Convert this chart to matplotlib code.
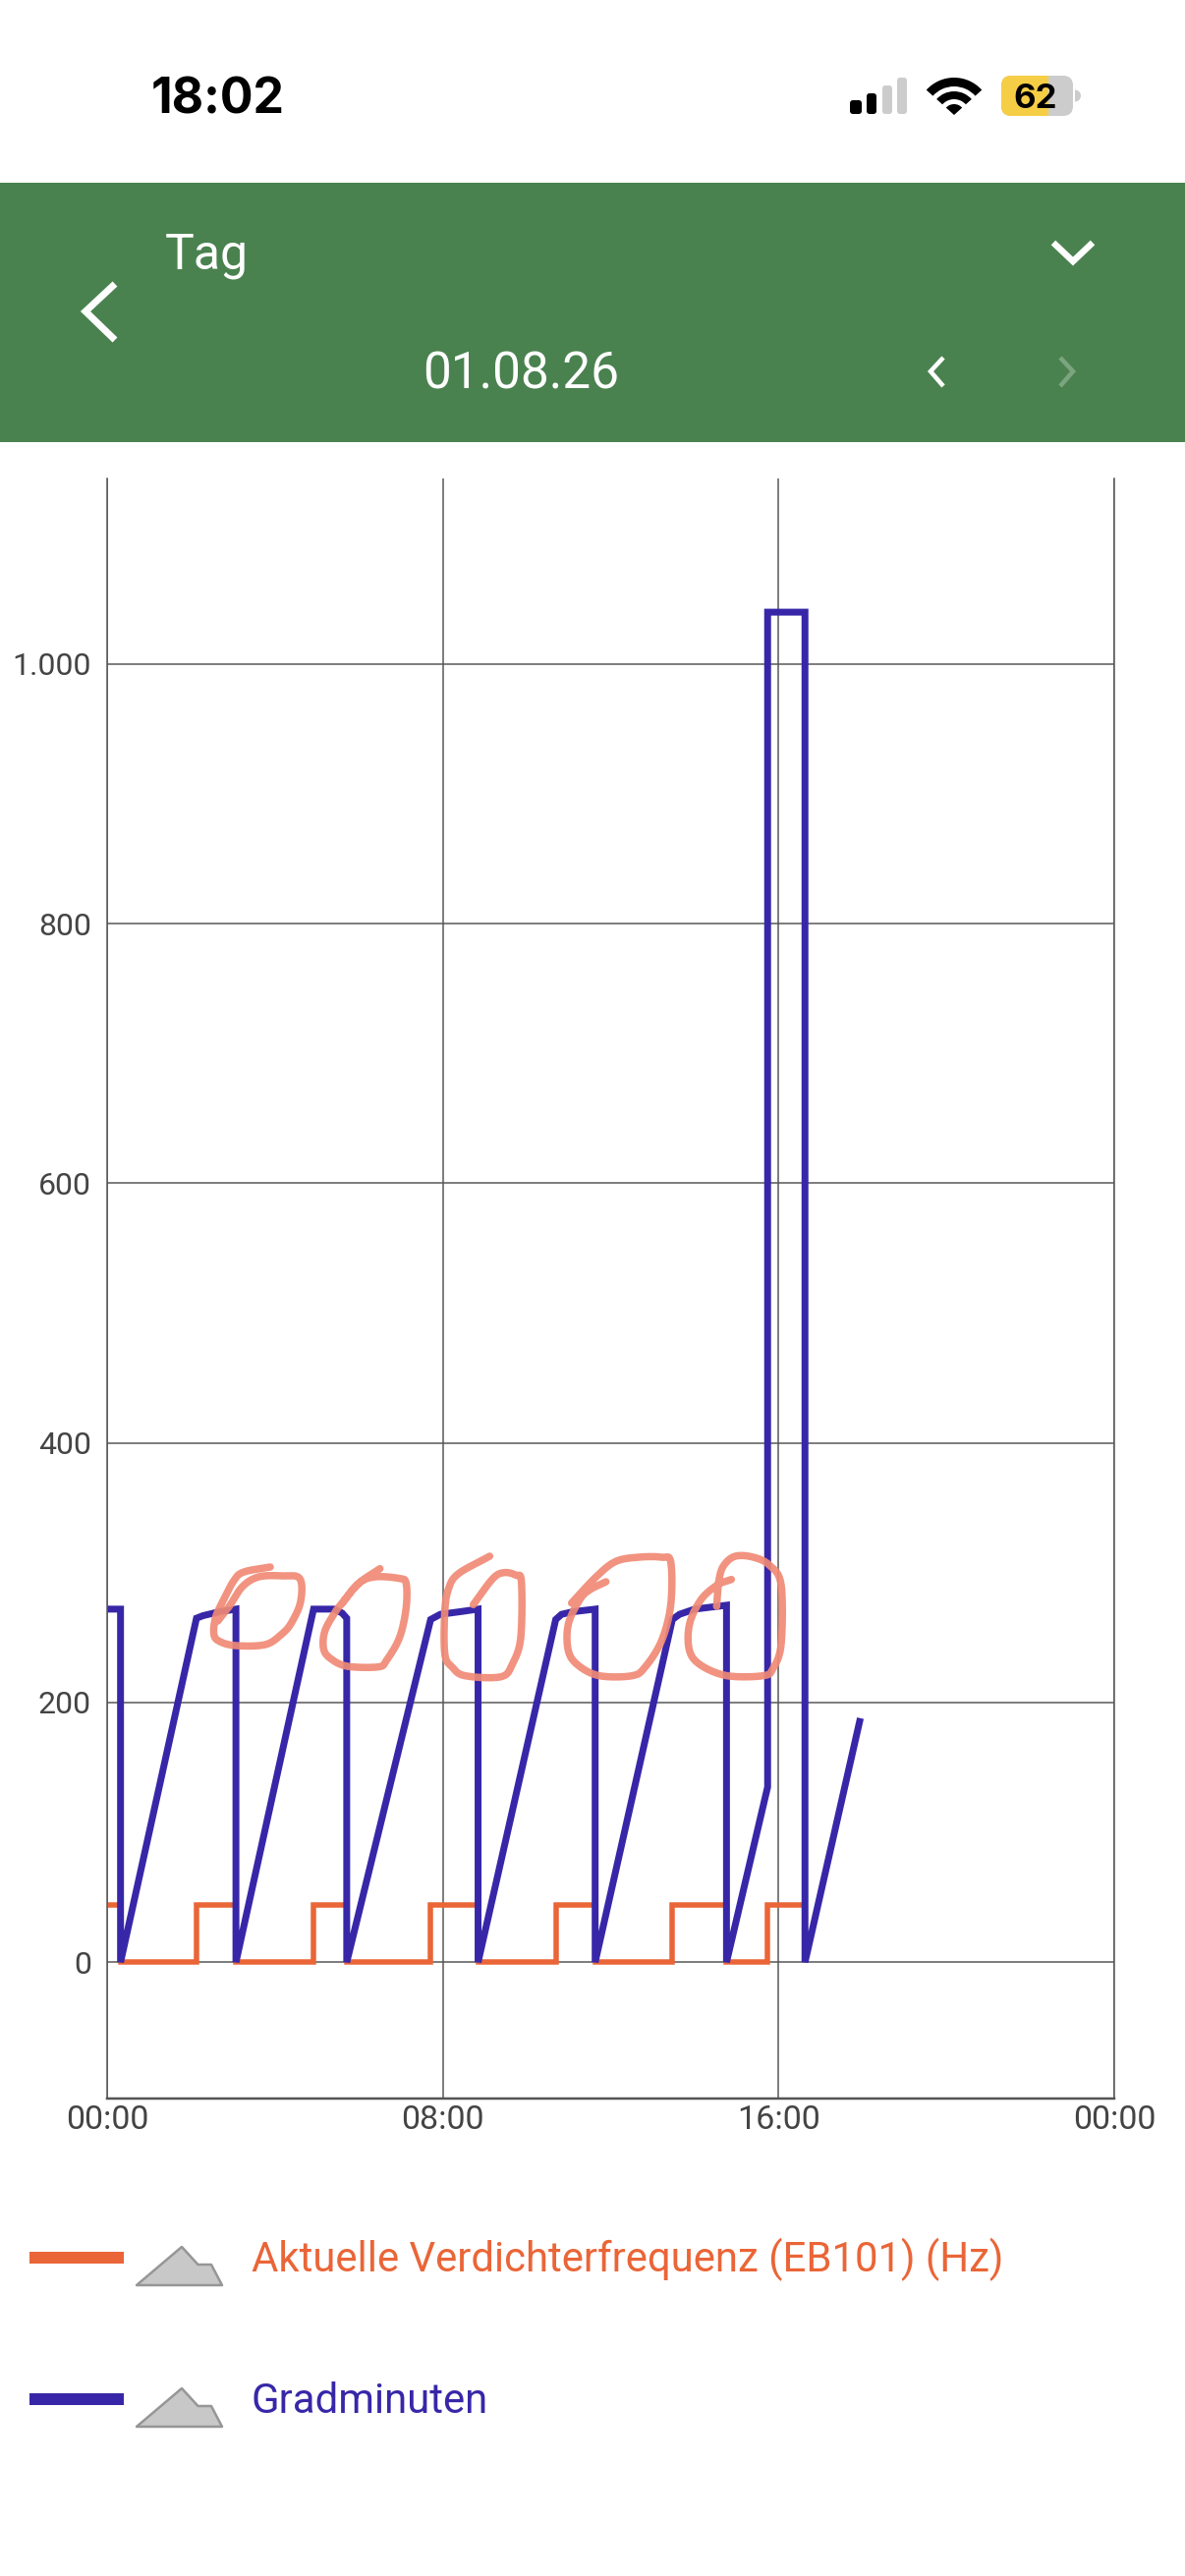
import numpy as np
import matplotlib
matplotlib.use("Agg")
import matplotlib.pyplot as plt
from matplotlib.patches import Rectangle, FancyBboxPatch, Polygon, Wedge

plt.rcParams['font.family'] = ['Roboto', 'DejaVu Sans']

# ---- data
grad_t = [0, 0.32, 0.32, 2.13, 2.29, 2.68, 3.07, 3.07, 4.92, 5.41, 5.60, 5.71, 5.71, 7.71, 7.94, 8.41, 8.84, 8.84,
          10.69, 10.83, 11.10, 11.63, 11.63, 13.47, 13.64, 14.0, 14.76, 14.76, 15.74, 15.74, 16.63, 16.63, 17.95]
grad_v = [272, 272, 0, 265, 267, 270, 272, 0, 272, 272, 269, 265, 0, 264, 268, 270, 272, 0,
          264, 268, 270, 272, 0, 264, 268, 272, 275, 0, 135, 1040, 1040, 0, 188]
freq_t = [0, 0.32, 0.32, 2.13, 2.13, 3.07, 3.07, 4.92, 4.92, 5.71, 5.71, 7.71, 7.71, 8.84, 8.84,
          10.69, 10.69, 11.63, 11.63, 13.47, 13.47, 14.76, 14.76, 15.74, 15.74, 16.63, 16.63]
freq_v = [44, 44, 0, 0, 44, 44, 0, 0, 44, 44, 0, 0, 44, 44, 0,
          0, 44, 44, 0, 0, 44, 44, 0, 0, 44, 44, 0]
y_ticks = [0, 200, 400, 600, 800, 1000]
y_labels = ['0', '200', '400', '600', '800', '1.000']
x_ticks = [0, 8, 16, 24]
x_labels = ['00:00', '08:00', '16:00', '00:00']
series_names = ['Aktuelle Verdichterfrequenz (EB101) (Hz)', 'Gradminuten']

W, H = 1206, 2622
BLUE, ORANGE, GREEN = '#3727A8', '#EA6537', '#4A824F'
GRID = '#555555'
SALMON = '#F08A75'
TXT = '#444444'
px = 72 / 100

fig = plt.figure(figsize=(W / 100, H / 100), dpi=100, facecolor='white')

# ---- chart
L, R, T, B = 109, 1134, 487, 2136
ax = fig.add_axes([L / W, 1 - B / H, (R - L) / W, (B - T) / H])
ax.set_xlim(0, 24)
ax.set_ylim(-105, 1143)
ax.set_xticks(x_ticks, x_labels)
ax.set_yticks(y_ticks, y_labels)
ax.grid(True, color=GRID, lw=1.5 * px)
ax.set_axisbelow(True)
ax.tick_params(axis='x', length=0, pad=6 * px, labelsize=24.5, labelcolor=TXT)
ax.tick_params(axis='y', length=0, pad=16 * px, labelsize=23, labelcolor=TXT)
ax.spines['top'].set_visible(False)
for s in ['left', 'right']:
    ax.spines[s].set_color(GRID)
    ax.spines[s].set_linewidth(1.5 * px)
ax.spines['bottom'].set_color(GRID)
ax.spines['bottom'].set_linewidth(2.5 * px)
ax.plot(freq_t, freq_v, color=ORANGE, lw=5.5 * px, solid_joinstyle='miter', solid_capstyle='butt', clip_on=False)
ax.plot(grad_t, grad_v, color=BLUE, lw=7 * px, solid_joinstyle='miter', solid_capstyle='butt', clip_on=False)

# ---- overlay in pixel coordinates
ov = fig.add_axes([0, 0, 1, 1], zorder=5)
ov.set_xlim(0, W)
ov.set_ylim(H, 0)
ov.axis('off')
ov.patch.set_alpha(0)


def catmull(pts, n=12):
    p = np.array(pts, float)
    p = np.vstack([2 * p[0] - p[1], p, 2 * p[-1] - p[-2]])
    out = []
    for i in range(1, len(p) - 2):
        for u in np.linspace(0, 1, n, endpoint=False):
            out.append(0.5 * ((2 * p[i]) + (p[i + 1] - p[i - 1]) * u
                              + (2 * p[i - 1] - 5 * p[i] + 4 * p[i + 1] - p[i + 2]) * u ** 2
                              + (3 * p[i] - p[i - 1] - 3 * p[i + 1] + p[i + 2]) * u ** 3))
    out.append(p[-2])
    return np.array(out)


def scrib(z, x0):
    pts = [(x0 + a / 3, 1540 + b / 3) for a, b in z]
    c = catmull(pts)
    ov.plot(c[:, 0], c[:, 1], color=SALMON, lw=7.5 * px, alpha=0.92, solid_capstyle='round', solid_joinstyle='round')


scrib([(485, 330), (520, 285), (560, 225), (610, 195), (680, 192), (735, 200), (738, 270), (710, 335), (680, 370),
       (630, 402), (540, 405), (490, 392), (473, 370), (478, 320), (500, 270), (535, 205), (565, 180), (645, 165)], 60)
scrib([(980, 170), (915, 215), (865, 275), (845, 300), (812, 360), (808, 415), (830, 445), (880, 468), (975, 470),
       (1000, 450), (1040, 380), (1060, 290), (1060, 215), (1040, 200), (965, 195), (915, 215), (865, 275)], 60)
scrib([(1315, 132), (1220, 185), (1190, 230), (1178, 300), (1178, 430), (1200, 470), (1240, 497), (1350, 500),
       (1385, 460), (1410, 380), (1412, 210), (1395, 190), (1360, 182), (1325, 200), (1265, 280)], 60)
scrib([(350, 210), (300, 235), (270, 265), (235, 340), (235, 420), (265, 465), (330, 497), (430, 497), (470, 470),
       (520, 390), (548, 280), (548, 150), (520, 135), (450, 135), (380, 148), (320, 195), (245, 275)], 500)
scrib([(733, 203), (690, 220), (640, 265), (605, 340), (605, 420), (640, 465), (720, 497), (830, 497), (860, 475),
       (885, 400), (885, 220), (850, 160), (800, 135), (745, 132), (710, 160), (695, 205), (688, 285)], 500)

# header
ov.add_patch(Rectangle((0, 186), W, 264, color=GREEN, lw=0))


def chevron(pts, lw, alpha=1.0):
    xs, ys = zip(*pts)
    ov.plot(xs, ys, color='white', lw=lw * px, alpha=alpha, solid_joinstyle='miter', solid_capstyle='butt')


chevron([(117, 289), (87, 317), (117, 346)], 7)
chevron([(1072, 247), (1092, 266), (1112, 247)], 6.5)
chevron([(960, 364), (947, 378), (960, 393)], 4.5)
chevron([(1079, 364), (1092, 378), (1079, 393)], 4.5, 0.28)
ov.text(168, 274, 'Tag', color='white', fontsize=36, va='baseline', ha='left')
ov.text(530, 395, '01.08.26', color='white', fontsize=37, va='baseline', ha='center')

# status bar
ov.text(222, 116, '18:02', color='black', fontsize=36, fontweight='bold', family=['Inter', 'DejaVu Sans'],
        va='baseline', ha='center')
for (x0, x1, y0, c) in [(865, 877, 102, 'black'), (882, 892, 95, 'black'), (898, 908, 87, '#CCCCCC'),
                        (913, 923, 79, '#CCCCCC')]:
    ov.add_patch(FancyBboxPatch((x0 + 3, y0 + 3), x1 - x0 - 6, 116 - y0 - 6, boxstyle='round,pad=3,rounding_size=3',
                                fc=c, ec='none'))
for r, w in [(38, 9), (24, 8), (11, 11)]:
    ov.add_patch(Wedge((971, 117), r, 222, 318, width=w, fc='black', ec='none'))
grey = FancyBboxPatch((1019 + 10, 77 + 10), 73 - 20, 41 - 20, boxstyle='round,pad=10,rounding_size=10', fc='#CCCCCC', ec='none')
ov.add_patch(grey)
yel = FancyBboxPatch((1019 + 10, 77 + 10), 73 - 20, 41 - 20, boxstyle='round,pad=10,rounding_size=10', fc='#F6CE46', ec='none')
ov.add_patch(yel)
yel.set_clip_path(Rectangle((1019, 70), 48, 60, transform=ov.transData))
ov.add_patch(Wedge((1094, 97.5), 6, -90, 90, fc='#CCCCCC', ec='none'))
ov.text(1054, 110, '62', color='black', fontsize=25, fontweight='bold', family=['Inter', 'DejaVu Sans'],
        va='baseline', ha='center')

# legend
for dy, col, name, base in [(0, ORANGE, series_names[0], 2312), (144, BLUE, series_names[1], 2456)]:
    ov.add_patch(Rectangle((30, 2292 + dy), 96, 12, color=col, lw=0))
    ov.add_patch(Polygon([(185, 2287 + dy), (201.5, 2305 + dy), (215, 2305 + dy), (226, 2326 + dy), (139, 2326 + dy)],
                         closed=True, fc='#C8C8C8', ec='#969696', lw=2.5 * px, joinstyle='round'))
    ov.text(256, base, name, color=col, fontsize=30.2, va='baseline', ha='left')

fig.savefig('out.png', dpi=100, facecolor='white')
